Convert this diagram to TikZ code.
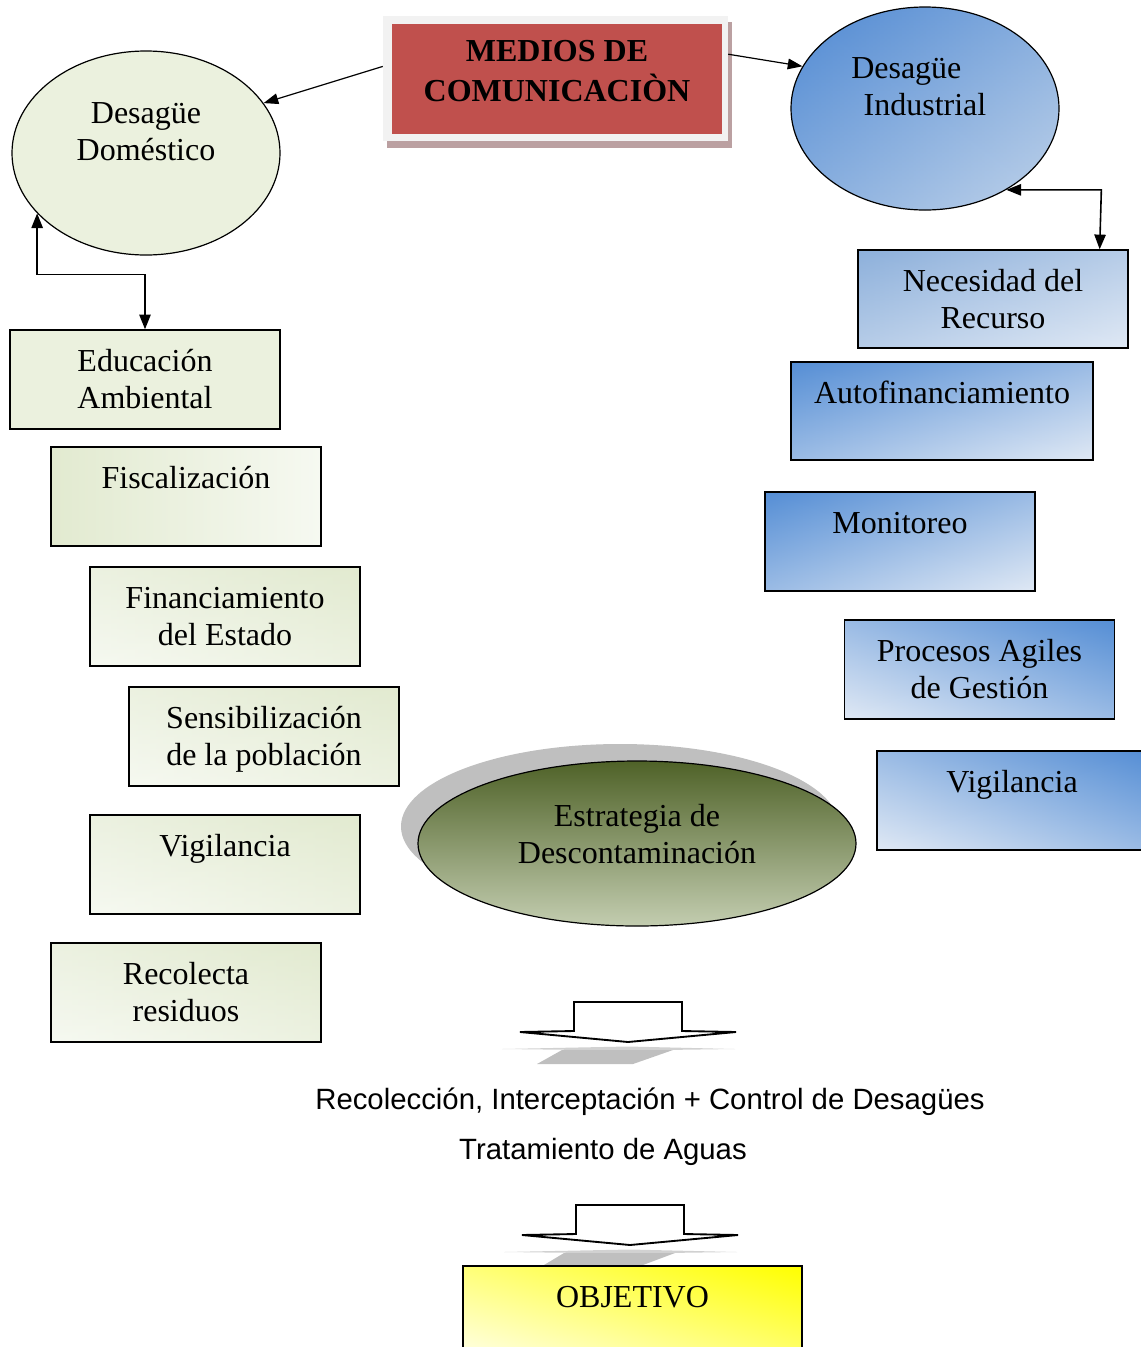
\documentclass[tikz,border=0pt]{standalone}
\usepackage{fontspec}
\setmainfont{Liberation Serif}
\setsansfont{Liberation Sans}
\usetikzlibrary{arrows.meta,shapes.geometric}

\definecolor{redbox}{HTML}{C0504D}
\definecolor{framegray}{HTML}{F2F2F2}
\definecolor{rosyshadow}{HTML}{BBA0A1}
\definecolor{greenpale}{HTML}{EBF1DE}
\definecolor{greendeep}{HTML}{E2EAD0}
\definecolor{greenlight}{HTML}{F6F9F1}
\definecolor{bluedark}{HTML}{558ED5}
\definecolor{bluemid}{HTML}{8DB0DB}
\definecolor{bluelight}{HTML}{E0E9F5}
\definecolor{blueovaldark}{HTML}{4F89D3}
\definecolor{blueoval}{HTML}{C0D3EA}
\definecolor{olivedark}{HTML}{4F6228}
\definecolor{olivelight}{HTML}{C3CDB0}
\definecolor{yellowlight}{HTML}{FFFFF0}
\definecolor{shadowgray}{HTML}{BFBFBF}

\begin{document}
\begin{tikzpicture}[x=0.75pt,y=-0.75pt,
  txt/.style={font=\fontsize{24pt}{27.75pt}\selectfont, align=center, inner sep=0pt},
  cardtext/.style={txt, yshift=-2.6pt},
  stxt/.style={font=\sffamily\fontsize{22pt}{26pt}\selectfont, inner sep=0pt},
  card/.style={draw=black, line width=1.1pt, minimum width=202.5pt, minimum height=74.25pt, inner sep=0pt},
  oval/.style={ellipse, draw=black, line width=0.9pt, inner sep=0pt},
  % diagonal gradient from the top-left corner (#1) to the bottom-right corner (#2)
  diagtl/.style 2 args={left color=#1, right color=#2,
    path picture={\shade[top color=#1, bottom color=#2, fill opacity=0.5]
      (path picture bounding box.south west) rectangle (path picture bounding box.north east);}},
  % diagonal gradient from the top-right corner (#1) to the bottom-left corner (#2)
  diagtr/.style 2 args={left color=#2, right color=#1,
    path picture={\shade[top color=#1, bottom color=#2, fill opacity=0.5]
      (path picture bounding box.south west) rectangle (path picture bounding box.north east);}},
  greenflat/.style={card, fill=greenpale},
  greenside/.style={card, left color=greendeep, right color=greenlight},
  greendiag/.style={card, diagtr={greendeep}{greenlight}},
  bluesoft/.style={card, diagtl={bluemid}{bluelight}},
  bluetl/.style={card, diagtl={bluedark}{bluelight}},
  bluetr/.style={card, diagtr={bluedark}{bluelight}},
  link/.style={line width=1.2pt, {Triangle[length=11pt,width=8.5pt]}-{Triangle[length=11pt,width=8.5pt]}},
  thinlink/.style={line width=0.9pt, -{Triangle[length=11pt,width=8pt]}},
  hollowarrow/.style={draw=black, line width=1.4pt, fill=white, line join=miter},
  shadowtrap/.style={fill=shadowgray},
  shadowwedge/.style={fill=black!18},
]
\useasboundingbox (0,0) rectangle (1141,1347);
\clip (0,0) rectangle (1141,1347);

% title block with its frame and offset shadow
\node[fill=rosyshadow, minimum width=258.75pt, minimum height=94.5pt, inner sep=0pt] (medshadow) at (559.5,85) {};
\node[fill=framegray, minimum width=258.75pt, minimum height=93.75pt, inner sep=0pt] (medframe) at (555.5,78.5) {};
\node[fill=redbox, minimum width=247.5pt, minimum height=82.5pt, inner sep=0pt] (medios) at (557,79) {};
\node[txt, font=\bfseries\fontsize{24pt}{27.75pt}\selectfont] (mediostxt) at (557,74) {MEDIOS DE\strut\\COMUNICACIÒN\strut};

% the two wastewater ovals
\node[oval, fill=greenpale, minimum width=201pt, minimum height=153pt] (dom) at (146,153) {};
\node[txt] (domtxt) at (146,135) {Desagüe\strut\\Doméstico\strut};
\node[oval, diagtl={blueovaldark}{blueoval}, minimum width=201pt, minimum height=152.25pt] (ind) at (925,108.5) {};
\node[txt] (indtxt) at (925,90) {Desagüe\hspace*{28pt}\strut\\Industrial\strut};

\draw[thinlink] (medframe.176) -- (dom.23);
\draw[thinlink] (medframe.8) -- (ind.161);

% domestic branch
\node[greenflat] (edu) at (145,379.5) {};
\node[cardtext] (edutxt) at (edu.center) {Educación\strut\\Ambiental\strut};
\node[greenside] (fisc) at (186,496.5) {};
\node[cardtext] (fisctxt) at (fisc.center) {Fiscalización\strut\\\strut};
\node[greendiag] (fin) at (225,616.5) {};
\node[cardtext] (fintxt) at (fin.center) {Financiamiento\strut\\del Estado\strut};
\node[greendiag] (sens) at (264,736.5) {};
\node[cardtext] (senstxt) at (sens.center) {Sensibilización\strut\\de la población\strut};
\node[greendiag] (vigl) at (225,864.5) {};
\node[cardtext] (vigltxt) at (vigl.center) {Vigilancia\strut\\\strut};
\node[greendiag] (reco) at (186,992.5) {};
\node[cardtext] (recotxt) at (reco.center) {Recolecta\strut\\residuos\strut};

\draw[link] (dom.209) -- ++(0,61) -| (edu.north);

% industrial branch
\node[bluesoft, minimum height=73.5pt] (nec) at (993,299) {};
\node[cardtext] (nectxt) at (nec.center) {Necesidad del\strut\\Recurso\strut};
\node[bluetl, minimum width=226.5pt, minimum height=73.5pt] (auto) at (942,411) {};
\node[cardtext] (autotxt) at (auto.center) {Autofinanciamiento\strut\\\strut};
\node[bluetl] (mon) at (900,541.5) {};
\node[cardtext] (montxt) at (mon.center) {Monitoreo\strut\\\strut};
\node[bluetr] (proc) at (979.5,669.5) {};
\node[cardtext] (proctxt) at (proc.center) {Procesos Agiles\strut\\de Gestión\strut};
\node[bluetr] (vigr) at (1012,800.5) {};
\node[cardtext] (vigrtxt) at (vigr.center) {Vigilancia\strut\\\strut};

\draw[link] (ind.-45) -- ++(95,0) -- (nec.25);

% central strategy oval with its shadow
\node[ellipse, fill=shadowgray, minimum width=328.5pt, minimum height=123.75pt, inner sep=0pt] (estshadow) at (620,826.5) {};
\node[oval, top color=olivedark, bottom color=olivelight, minimum width=328.5pt, minimum height=123.75pt] (est) at (637,843.5) {};
\node[txt] (esttxt) at (637,838) {Estrategia de\strut\\Descontaminación\strut};

% first hollow arrow and its shadow
\fill[shadowwedge] (502,1049) -- (628,1046.5) -- (735,1049) -- (628,1050.5) -- cycle;
\fill[shadowtrap] (537,1064) -- (562,1050) -- (673,1050) -- (633,1064) -- cycle;
\draw[hollowarrow] (520,1032) -- (574,1031) -- (574,1002) -- (682,1002) -- (682,1031) -- (736,1032) -- (628,1042) -- cycle;

\node[stxt] (recol) at (650,1102) {Recolección, Interceptación + Control de Desagües};
\node[stxt] (trat) at (603,1152) {Tratamiento de Aguas};

% second hollow arrow and its shadow
\fill[shadowwedge] (504,1252) -- (630,1249.5) -- (737,1252) -- (630,1253.5) -- cycle;
\fill[shadowtrap] (539,1268) -- (564,1253) -- (675,1253) -- (635,1268) -- cycle;
\draw[hollowarrow] (522,1235) -- (576,1234) -- (576,1205) -- (684,1205) -- (684,1234) -- (738,1235) -- (630,1245) -- cycle;

% goal
\node[card, diagtr={yellow}{yellowlight}, minimum width=254.25pt] (obj) at (632.5,1315.5) {};
\node[cardtext] (objtxt) at (obj.center) {OBJETIVO\strut\\\strut};
\end{tikzpicture}
\end{document}
